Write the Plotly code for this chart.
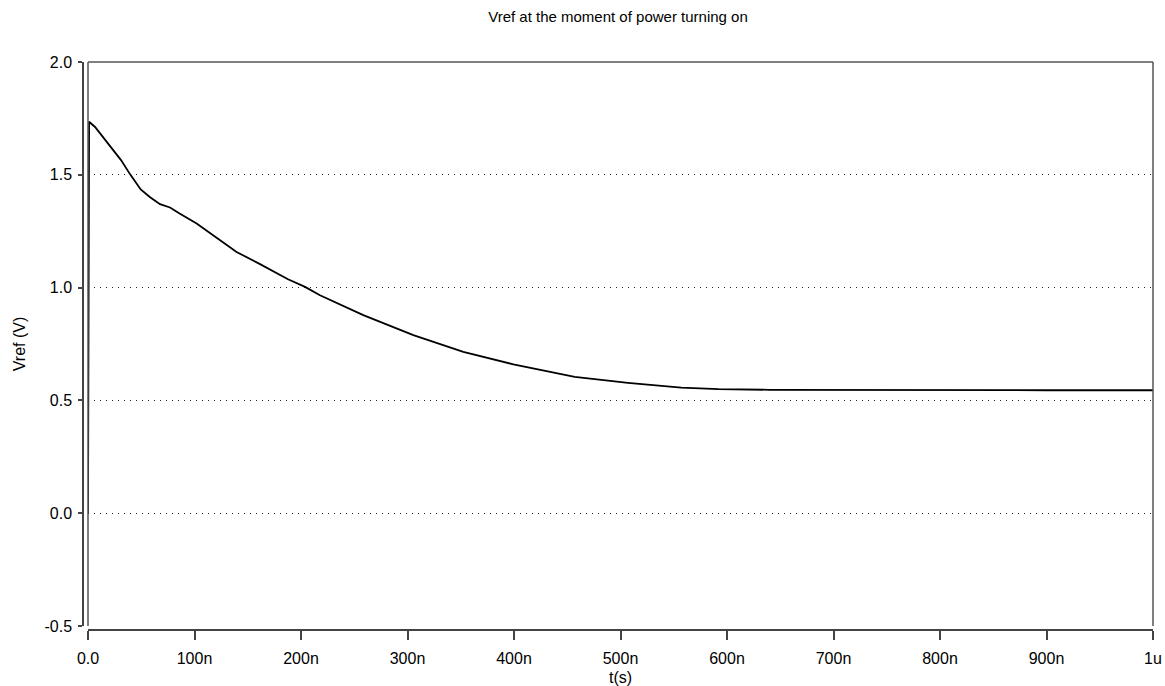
import plotly.graph_objects as go

# time in ns, voltage in V
t_ns = [0, 1, 6.6, 16, 25, 31, 39.4, 49.5, 58, 67.6, 77, 86, 102, 117.7, 139.5,
        161.5, 187.8, 203.8, 217.8, 258.5, 305.5, 352.4, 399.4, 457, 507, 557,
        592, 640, 700, 800, 900, 1000]
vref = [0, 1.735, 1.712, 1.656, 1.60, 1.565, 1.503, 1.435, 1.402, 1.37, 1.355,
        1.328, 1.284, 1.232, 1.158, 1.104, 1.037, 1.003, 0.966, 0.878, 0.789,
        0.715, 0.660, 0.604, 0.578, 0.557, 0.550, 0.547, 0.546, 0.545, 0.545, 0.545]

x_tickvals = [0, 100, 200, 300, 400, 500, 600, 700, 800, 900, 1000]
x_ticktext = ["0.0", "100n", "200n", "300n", "400n", "500n", "600n", "700n", "800n", "900n", "1u"]
y_tickvals = [-0.5, 0.0, 0.5, 1.0, 1.5, 2.0]
y_ticktext = ["-0.5", "0.0", "0.5", "1.0", "1.5", "2.0"]

FONT = "Liberation Sans, Arial, sans-serif"
W, H = 1165, 686
ml, mr, mt, mb = 83, 12, 62, 56
pw = W - ml - mr
ph = H - mt - mb
xd0 = 5 / pw
yd0 = 4 / ph

fig = go.Figure()
fig.add_trace(go.Scatter(x=t_ns, y=vref, mode="lines",
                         line=dict(color="black", width=1.8), showlegend=False))

fig.update_layout(
    width=W, height=H,
    margin=dict(l=ml, r=mr, t=mt, b=mb, autoexpand=False),
    paper_bgcolor="white", plot_bgcolor="white",
    font=dict(family=FONT, color="black"),
    title=dict(text="Vref at the moment of power turning on", x=0.5, xref="paper",
               y=1 - 17 / H, yanchor="middle", font=dict(size=15, family=FONT)),
    xaxis=dict(domain=[xd0, 1], range=[0, 1000], anchor="free", position=0,
               tickvals=x_tickvals, ticktext=x_ticktext,
               ticks="outside", ticklen=9, tickcolor="#444", tickwidth=1.5,
               showline=True, linecolor="#444", linewidth=1.5,
               showgrid=False, zeroline=False, automargin=False,
               tickfont=dict(size=16), ticklabelstandoff=5,
               title=dict(text="t(s)", font=dict(size=16), standoff=13)),
    yaxis=dict(domain=[yd0, 1], range=[-0.5, 2.0], anchor="free", position=0,
               tickvals=y_tickvals, ticktext=y_ticktext,
               ticks="outside", ticklen=4, tickcolor="#444", tickwidth=1.5,
               showline=True, linecolor="#444", linewidth=1.5,
               showgrid=True, gridcolor="#222", gridwidth=1, griddash="1px,5px",
               zeroline=False, automargin=False,
               tickfont=dict(size=16), ticklabelstandoff=3,
               title=dict(text="Vref (V)", font=dict(size=16), standoff=14)),
)

# frame around plot area (top, left, right)
frame = dict(color="#555", width=1.5)
fig.add_shape(type="line", xref="paper", yref="paper", x0=xd0, x1=1, y0=1, y1=1, line=frame)
fig.add_shape(type="line", xref="paper", yref="paper", x0=xd0, x1=xd0, y0=yd0, y1=1, line=frame)
fig.add_shape(type="line", xref="paper", yref="paper", x0=1, x1=1, y0=yd0, y1=1, line=frame)

fig.write_html("out.html")
